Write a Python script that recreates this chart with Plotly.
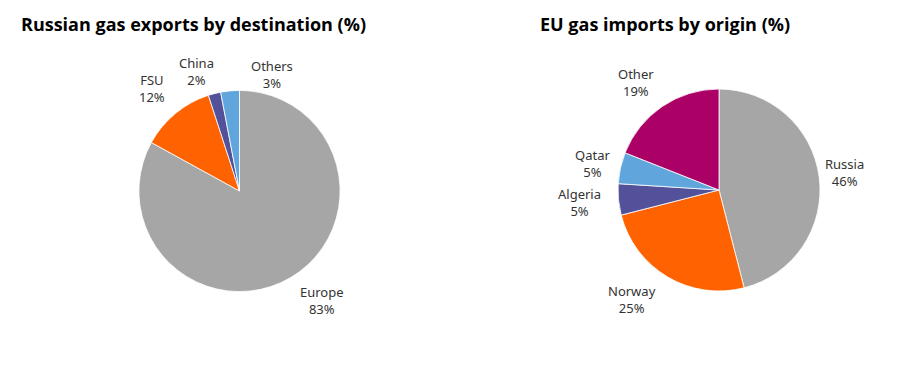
import math
import plotly.graph_objects as go

# ---- data ----
left_title = "Russian gas exports by destination (%)"
left_labels = ["Europe", "FSU", "China", "Others"]
left_values = [83, 12, 2, 3]

right_title = "EU gas imports by origin (%)"
right_labels = ["Russia", "Norway", "Algeria", "Qatar", "Other"]
right_values = [46, 25, 5, 5, 19]

# ---- style ----
W, H = 901, 367
GRAY, ORANGE, PURPLE, LBLUE, MAGENTA = "#A6A6A6", "#FF6200", "#525199", "#60A6DC", "#AB0066"
left_colors = [GRAY, ORANGE, PURPLE, LBLUE]
right_colors = [GRAY, ORANGE, PURPLE, LBLUE, MAGENTA]

LABEL_FONT = "Noto Sans, Lato, sans-serif"
TITLE_FONT = "Open Sans, Lato, sans-serif"
TEXT_COLOR = "#333333"

# pie geometry in pixels: centre x, centre y, radius
left_geom = (239.5, 191.0, 100.6)
right_geom = (719.0, 190.0, 101.0)
# label placement (angle shift in degrees, distance from centre in pixels)
left_label_place = [(-6.5, 136.7), (-1.0, 134.4), (-5.5, 127.6), (21.0, 120.5)]
right_label_place = [(-0.7, 127.2), (7.9, 139.9), (0.3, 139.6), (-0.7, 128.8), (-3.5, 135.8)]


def domain(geom):
    cx, cy, r = geom
    return dict(x=[(cx - r) / W, (cx + r) / W], y=[1 - (cy + r) / H, 1 - (cy - r) / H])


def label_annotations(labels, values, geom, place):
    cx, cy, r = geom
    total = float(sum(values))
    anns = []
    cum = 0.0
    for lab, v, (shift, dist) in zip(labels, values, place):
        mid = (cum + v / 2.0) / total
        cum += v
        th = math.radians(360.0 * mid + shift)
        px = cx + dist * math.sin(th)
        py = cy - dist * math.cos(th)
        pct = round(100.0 * v / total)
        anns.append(dict(
            x=px / W, y=1 - py / H, xref="paper", yref="paper",
            text=f"{lab}<br>{pct}%", showarrow=False,
            xanchor="center", yanchor="middle", align="center",
            font=dict(family=LABEL_FONT, size=13, color=TEXT_COLOR),
        ))
    return anns


fig = go.Figure()
fig.add_trace(go.Pie(
    labels=left_labels, values=left_values, sort=False, direction="clockwise", rotation=0,
    marker=dict(colors=left_colors, line=dict(color="white", width=0.8)),
    textinfo="none", hoverinfo="label+percent", domain=domain(left_geom), showlegend=False,
))
fig.add_trace(go.Pie(
    labels=right_labels, values=right_values, sort=False, direction="clockwise", rotation=0,
    marker=dict(colors=right_colors, line=dict(color="white", width=0.8)),
    textinfo="none", hoverinfo="label+percent", domain=domain(right_geom), showlegend=False,
))

annotations = []
annotations += label_annotations(left_labels, left_values, left_geom, left_label_place)
annotations += label_annotations(right_labels, right_values, right_geom, right_label_place)
annotations.append(dict(
    x=19 / W, y=1 - 24 / H, xref="paper", yref="paper", text=f"<b>{left_title}</b>",
    showarrow=False, xanchor="left", yanchor="middle",
    font=dict(family=TITLE_FONT, size=18, color="#000000"),
))
annotations.append(dict(
    x=538 / W, y=1 - 24 / H, xref="paper", yref="paper", text=f"<b>{right_title}</b>",
    showarrow=False, xanchor="left", yanchor="middle",
    font=dict(family=TITLE_FONT, size=18, color="#000000"),
))

fig.update_layout(
    width=W, height=H, margin=dict(l=0, r=0, t=0, b=0),
    paper_bgcolor="white", plot_bgcolor="white",
    annotations=annotations, showlegend=False,
)

fig.write_html("out.html", config={"displayModeBar": False},
               post_script="document.body.style.margin='0';")
